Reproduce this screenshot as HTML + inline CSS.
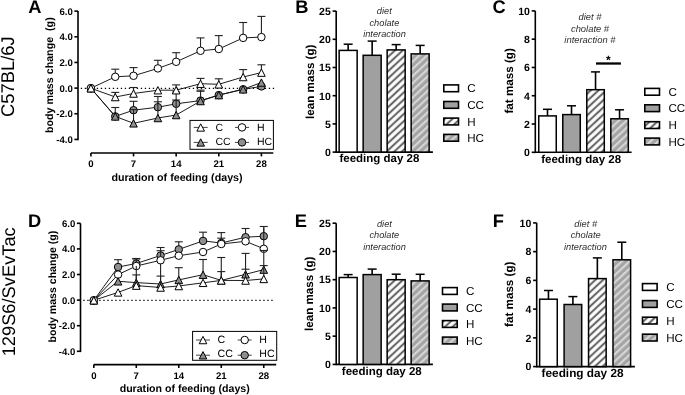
<!DOCTYPE html>
<html><head><meta charset="utf-8"><style>
html,body{margin:0;padding:0;background:#fff;}
body{width:685px;height:395px;overflow:hidden;}
svg{display:block;font-family:'Liberation Sans', sans-serif;text-rendering:geometricPrecision;will-change:transform;}
</style></head><body>
<svg width="685" height="395" viewBox="0 0 685 395">
<defs>
<pattern id="hw" patternUnits="userSpaceOnUse" width="5.25" height="10" patternTransform="rotate(47)">
<rect width="5.25" height="10" fill="#fff"/><rect x="0.7" width="2.1" height="10" fill="#666"/></pattern>
<pattern id="hg" patternUnits="userSpaceOnUse" width="5.25" height="10" patternTransform="rotate(47)">
<rect width="5.25" height="10" fill="#a4a4a4"/><rect width="2.1" height="10" fill="#d6d6d6"/></pattern>
</defs>
<rect width="685" height="395" fill="#fff"/>
<text x="14.40" y="76.60" font-size="18.4" font-weight="400" font-style="normal" text-anchor="middle" fill="#000" transform="rotate(-90 14.40 76.60)" >C57BL/6J</text>
<text x="15.00" y="291.80" font-size="18.3" font-weight="400" font-style="normal" text-anchor="middle" fill="#000" transform="rotate(-90 15.00 291.80)" >129S6/SvEvTac</text>
<text x="28.30" y="13.10" font-size="18.3" font-weight="700" font-style="normal" text-anchor="start" fill="#000" >A</text>
<text x="295.20" y="12.90" font-size="18.3" font-weight="700" font-style="normal" text-anchor="start" fill="#000" >B</text>
<text x="492.60" y="13.00" font-size="18.3" font-weight="700" font-style="normal" text-anchor="start" fill="#000" >C</text>
<text x="28.10" y="226.60" font-size="18.3" font-weight="700" font-style="normal" text-anchor="start" fill="#000" >D</text>
<text x="294.80" y="226.60" font-size="18.3" font-weight="700" font-style="normal" text-anchor="start" fill="#000" >E</text>
<text x="492.80" y="226.90" font-size="18.3" font-weight="700" font-style="normal" text-anchor="start" fill="#000" >F</text>
<line x1="78.00" y1="11.12" x2="78.00" y2="140.22" stroke="#000" stroke-width="1.6" />
<line x1="74.40" y1="11.12" x2="78.00" y2="11.12" stroke="#000" stroke-width="1.6" />
<text x="72.80" y="14.52" font-size="9.6" font-weight="700" font-style="normal" text-anchor="end" fill="#000" >6.0</text>
<line x1="74.40" y1="36.78" x2="78.00" y2="36.78" stroke="#000" stroke-width="1.6" />
<text x="72.80" y="40.18" font-size="9.6" font-weight="700" font-style="normal" text-anchor="end" fill="#000" >4.0</text>
<line x1="74.40" y1="62.44" x2="78.00" y2="62.44" stroke="#000" stroke-width="1.6" />
<text x="72.80" y="65.84" font-size="9.6" font-weight="700" font-style="normal" text-anchor="end" fill="#000" >2.0</text>
<line x1="74.40" y1="88.10" x2="78.00" y2="88.10" stroke="#000" stroke-width="1.6" />
<text x="72.80" y="91.50" font-size="9.6" font-weight="700" font-style="normal" text-anchor="end" fill="#000" >0.0</text>
<line x1="74.40" y1="113.76" x2="78.00" y2="113.76" stroke="#000" stroke-width="1.6" />
<text x="72.80" y="117.16" font-size="9.6" font-weight="700" font-style="normal" text-anchor="end" fill="#000" >-2.0</text>
<line x1="74.40" y1="139.42" x2="78.00" y2="139.42" stroke="#000" stroke-width="1.6" />
<text x="72.80" y="142.82" font-size="9.6" font-weight="700" font-style="normal" text-anchor="end" fill="#000" >-4.0</text>
<line x1="90.90" y1="153.00" x2="273.30" y2="153.00" stroke="#000" stroke-width="1.6" />
<line x1="90.90" y1="153.00" x2="90.90" y2="156.40" stroke="#000" stroke-width="1.6" />
<text x="90.90" y="166.60" font-size="9.6" font-weight="700" font-style="normal" text-anchor="middle" fill="#000" >0</text>
<line x1="133.53" y1="153.00" x2="133.53" y2="156.40" stroke="#000" stroke-width="1.6" />
<text x="133.53" y="166.60" font-size="9.6" font-weight="700" font-style="normal" text-anchor="middle" fill="#000" >7</text>
<line x1="176.16" y1="153.00" x2="176.16" y2="156.40" stroke="#000" stroke-width="1.6" />
<text x="176.16" y="166.60" font-size="9.6" font-weight="700" font-style="normal" text-anchor="middle" fill="#000" >14</text>
<line x1="218.79" y1="153.00" x2="218.79" y2="156.40" stroke="#000" stroke-width="1.6" />
<text x="218.79" y="166.60" font-size="9.6" font-weight="700" font-style="normal" text-anchor="middle" fill="#000" >21</text>
<line x1="261.42" y1="153.00" x2="261.42" y2="156.40" stroke="#000" stroke-width="1.6" />
<text x="261.42" y="166.60" font-size="9.6" font-weight="700" font-style="normal" text-anchor="middle" fill="#000" >28</text>
<text x="177.00" y="181.30" font-size="10.7" font-weight="700" font-style="normal" text-anchor="middle" fill="#000" >duration of feeding (days)</text>
<text x="52.60" y="75.20" font-size="10.7" font-weight="700" font-style="normal" text-anchor="middle" fill="#000" transform="rotate(-90 52.60 75.20)" xml:space="preserve">body mass change  (g)</text>
<line x1="80.80" y1="88.35" x2="275.50" y2="88.35" stroke="#000" stroke-width="1.3" stroke-dasharray="1.3 2.7"/>
<polyline points="90.90,88.20 115.26,116.40 133.53,110.20 157.89,107.20 176.16,103.80 200.52,100.60 218.79,95.10 243.15,89.30 261.42,86.40" fill="none" stroke="#111" stroke-width="0.95"/>
<polyline points="90.90,88.20 115.26,76.80 133.53,75.80 157.89,68.40 176.16,61.80 200.52,50.80 218.79,49.00 243.15,37.90 261.42,37.10" fill="none" stroke="#111" stroke-width="0.95"/>
<polyline points="90.90,88.20 115.26,116.40 133.53,123.30 157.89,118.00 176.16,115.00 200.52,101.00 218.79,95.10 243.15,89.30 261.42,82.50" fill="none" stroke="#111" stroke-width="0.95"/>
<polyline points="90.90,88.20 115.26,97.00 133.53,93.50 157.89,90.20 176.16,90.20 200.52,83.70 218.79,84.30 243.15,77.00 261.42,72.60" fill="none" stroke="#111" stroke-width="0.95"/>
<line x1="115.26" y1="116.40" x2="115.26" y2="107.50" stroke="#222" stroke-width="1.1" />
<line x1="111.26" y1="107.50" x2="119.26" y2="107.50" stroke="#222" stroke-width="1.1" />
<line x1="133.53" y1="110.20" x2="133.53" y2="101.30" stroke="#222" stroke-width="1.1" />
<line x1="129.53" y1="101.30" x2="137.53" y2="101.30" stroke="#222" stroke-width="1.1" />
<line x1="157.89" y1="107.20" x2="157.89" y2="96.50" stroke="#222" stroke-width="1.1" />
<line x1="153.89" y1="96.50" x2="161.89" y2="96.50" stroke="#222" stroke-width="1.1" />
<line x1="176.16" y1="103.80" x2="176.16" y2="92.00" stroke="#222" stroke-width="1.1" />
<line x1="172.16" y1="92.00" x2="180.16" y2="92.00" stroke="#222" stroke-width="1.1" />
<line x1="200.52" y1="100.60" x2="200.52" y2="90.10" stroke="#222" stroke-width="1.1" />
<line x1="196.52" y1="90.10" x2="204.52" y2="90.10" stroke="#222" stroke-width="1.1" />
<circle cx="90.90" cy="88.20" r="3.75" fill="#8e8e8e" stroke="#000" stroke-width="1"/>
<circle cx="115.26" cy="116.40" r="3.75" fill="#8e8e8e" stroke="#000" stroke-width="1"/>
<circle cx="133.53" cy="110.20" r="3.75" fill="#8e8e8e" stroke="#000" stroke-width="1"/>
<circle cx="157.89" cy="107.20" r="3.75" fill="#8e8e8e" stroke="#000" stroke-width="1"/>
<circle cx="176.16" cy="103.80" r="3.75" fill="#8e8e8e" stroke="#000" stroke-width="1"/>
<circle cx="200.52" cy="100.60" r="3.75" fill="#8e8e8e" stroke="#000" stroke-width="1"/>
<circle cx="218.79" cy="95.10" r="3.75" fill="#8e8e8e" stroke="#000" stroke-width="1"/>
<circle cx="243.15" cy="89.30" r="3.75" fill="#8e8e8e" stroke="#000" stroke-width="1"/>
<circle cx="261.42" cy="86.40" r="3.75" fill="#8e8e8e" stroke="#000" stroke-width="1"/>
<line x1="115.26" y1="76.80" x2="115.26" y2="69.20" stroke="#222" stroke-width="1.1" />
<line x1="111.26" y1="69.20" x2="119.26" y2="69.20" stroke="#222" stroke-width="1.1" />
<line x1="133.53" y1="75.80" x2="133.53" y2="67.60" stroke="#222" stroke-width="1.1" />
<line x1="129.53" y1="67.60" x2="137.53" y2="67.60" stroke="#222" stroke-width="1.1" />
<line x1="157.89" y1="68.40" x2="157.89" y2="60.30" stroke="#222" stroke-width="1.1" />
<line x1="153.89" y1="60.30" x2="161.89" y2="60.30" stroke="#222" stroke-width="1.1" />
<line x1="176.16" y1="61.80" x2="176.16" y2="52.70" stroke="#222" stroke-width="1.1" />
<line x1="172.16" y1="52.70" x2="180.16" y2="52.70" stroke="#222" stroke-width="1.1" />
<line x1="200.52" y1="50.80" x2="200.52" y2="37.90" stroke="#222" stroke-width="1.1" />
<line x1="196.52" y1="37.90" x2="204.52" y2="37.90" stroke="#222" stroke-width="1.1" />
<line x1="218.79" y1="49.00" x2="218.79" y2="35.60" stroke="#222" stroke-width="1.1" />
<line x1="214.79" y1="35.60" x2="222.79" y2="35.60" stroke="#222" stroke-width="1.1" />
<line x1="243.15" y1="37.90" x2="243.15" y2="22.50" stroke="#222" stroke-width="1.1" />
<line x1="239.15" y1="22.50" x2="247.15" y2="22.50" stroke="#222" stroke-width="1.1" />
<line x1="261.42" y1="37.10" x2="261.42" y2="16.40" stroke="#222" stroke-width="1.1" />
<line x1="257.42" y1="16.40" x2="265.42" y2="16.40" stroke="#222" stroke-width="1.1" />
<circle cx="90.90" cy="88.20" r="3.75" fill="#fff" stroke="#000" stroke-width="1"/>
<circle cx="115.26" cy="76.80" r="3.75" fill="#fff" stroke="#000" stroke-width="1"/>
<circle cx="133.53" cy="75.80" r="3.75" fill="#fff" stroke="#000" stroke-width="1"/>
<circle cx="157.89" cy="68.40" r="3.75" fill="#fff" stroke="#000" stroke-width="1"/>
<circle cx="176.16" cy="61.80" r="3.75" fill="#fff" stroke="#000" stroke-width="1"/>
<circle cx="200.52" cy="50.80" r="3.75" fill="#fff" stroke="#000" stroke-width="1"/>
<circle cx="218.79" cy="49.00" r="3.75" fill="#fff" stroke="#000" stroke-width="1"/>
<circle cx="243.15" cy="37.90" r="3.75" fill="#fff" stroke="#000" stroke-width="1"/>
<circle cx="261.42" cy="37.10" r="3.75" fill="#fff" stroke="#000" stroke-width="1"/>
<line x1="133.53" y1="123.30" x2="133.53" y2="109.60" stroke="#222" stroke-width="1.1" />
<line x1="129.53" y1="109.60" x2="137.53" y2="109.60" stroke="#222" stroke-width="1.1" />
<line x1="157.89" y1="118.00" x2="157.89" y2="101.80" stroke="#222" stroke-width="1.1" />
<line x1="153.89" y1="101.80" x2="161.89" y2="101.80" stroke="#222" stroke-width="1.1" />
<line x1="176.16" y1="115.00" x2="176.16" y2="100.00" stroke="#222" stroke-width="1.1" />
<line x1="172.16" y1="100.00" x2="180.16" y2="100.00" stroke="#222" stroke-width="1.1" />
<line x1="200.52" y1="101.00" x2="200.52" y2="91.30" stroke="#222" stroke-width="1.1" />
<line x1="196.52" y1="91.30" x2="204.52" y2="91.30" stroke="#222" stroke-width="1.1" />
<polygon points="90.90,84.60 94.70,91.95 87.10,91.95" fill="#8e8e8e" stroke="#000" stroke-width="1"/>
<polygon points="115.26,112.80 119.06,120.15 111.46,120.15" fill="#8e8e8e" stroke="#000" stroke-width="1"/>
<polygon points="133.53,119.70 137.33,127.05 129.73,127.05" fill="#8e8e8e" stroke="#000" stroke-width="1"/>
<polygon points="157.89,114.40 161.69,121.75 154.09,121.75" fill="#8e8e8e" stroke="#000" stroke-width="1"/>
<polygon points="176.16,111.40 179.96,118.75 172.36,118.75" fill="#8e8e8e" stroke="#000" stroke-width="1"/>
<polygon points="200.52,97.40 204.32,104.75 196.72,104.75" fill="#8e8e8e" stroke="#000" stroke-width="1"/>
<polygon points="218.79,91.50 222.59,98.85 214.99,98.85" fill="#8e8e8e" stroke="#000" stroke-width="1"/>
<polygon points="243.15,85.70 246.95,93.05 239.35,93.05" fill="#8e8e8e" stroke="#000" stroke-width="1"/>
<polygon points="261.42,78.90 265.22,86.25 257.62,86.25" fill="#8e8e8e" stroke="#000" stroke-width="1"/>
<line x1="115.26" y1="97.00" x2="115.26" y2="92.40" stroke="#222" stroke-width="1.1" />
<line x1="111.26" y1="92.40" x2="119.26" y2="92.40" stroke="#222" stroke-width="1.1" />
<line x1="133.53" y1="93.50" x2="133.53" y2="87.50" stroke="#222" stroke-width="1.1" />
<line x1="129.53" y1="87.50" x2="137.53" y2="87.50" stroke="#222" stroke-width="1.1" />
<line x1="176.16" y1="90.20" x2="176.16" y2="84.90" stroke="#222" stroke-width="1.1" />
<line x1="172.16" y1="84.90" x2="180.16" y2="84.90" stroke="#222" stroke-width="1.1" />
<line x1="200.52" y1="83.70" x2="200.52" y2="78.40" stroke="#222" stroke-width="1.1" />
<line x1="196.52" y1="78.40" x2="204.52" y2="78.40" stroke="#222" stroke-width="1.1" />
<line x1="218.79" y1="84.30" x2="218.79" y2="78.80" stroke="#222" stroke-width="1.1" />
<line x1="214.79" y1="78.80" x2="222.79" y2="78.80" stroke="#222" stroke-width="1.1" />
<line x1="243.15" y1="77.00" x2="243.15" y2="69.60" stroke="#222" stroke-width="1.1" />
<line x1="239.15" y1="69.60" x2="247.15" y2="69.60" stroke="#222" stroke-width="1.1" />
<line x1="261.42" y1="72.60" x2="261.42" y2="64.80" stroke="#222" stroke-width="1.1" />
<line x1="257.42" y1="64.80" x2="265.42" y2="64.80" stroke="#222" stroke-width="1.1" />
<polygon points="90.90,84.60 94.70,91.95 87.10,91.95" fill="#fff" stroke="#000" stroke-width="1"/>
<polygon points="115.26,93.40 119.06,100.75 111.46,100.75" fill="#fff" stroke="#000" stroke-width="1"/>
<polygon points="133.53,89.90 137.33,97.25 129.73,97.25" fill="#fff" stroke="#000" stroke-width="1"/>
<polygon points="157.89,86.60 161.69,93.95 154.09,93.95" fill="#fff" stroke="#000" stroke-width="1"/>
<polygon points="176.16,86.60 179.96,93.95 172.36,93.95" fill="#fff" stroke="#000" stroke-width="1"/>
<polygon points="200.52,80.10 204.32,87.45 196.72,87.45" fill="#fff" stroke="#000" stroke-width="1"/>
<polygon points="218.79,80.70 222.59,88.05 214.99,88.05" fill="#fff" stroke="#000" stroke-width="1"/>
<polygon points="243.15,73.40 246.95,80.75 239.35,80.75" fill="#fff" stroke="#000" stroke-width="1"/>
<polygon points="261.42,69.00 265.22,76.35 257.62,76.35" fill="#fff" stroke="#000" stroke-width="1"/>
<rect x="190.00" y="120.40" width="83.40" height="28.90" fill="#fff" stroke="#000" stroke-width="1"/>
<line x1="193.70" y1="127.40" x2="207.70" y2="127.40" stroke="#444" stroke-width="1" />
<polygon points="200.70,123.80 204.50,131.15 196.90,131.15" fill="#fff" stroke="#000" stroke-width="1"/>
<text x="215.50" y="130.60" font-size="10.5" font-weight="400" font-style="normal" text-anchor="start" fill="#000" >C</text>
<line x1="193.70" y1="142.40" x2="207.70" y2="142.40" stroke="#444" stroke-width="1" />
<polygon points="200.70,138.80 204.50,146.15 196.90,146.15" fill="#8e8e8e" stroke="#000" stroke-width="1"/>
<text x="215.50" y="145.00" font-size="10.5" font-weight="400" font-style="normal" text-anchor="start" fill="#000" >CC</text>
<line x1="235.00" y1="127.40" x2="249.00" y2="127.40" stroke="#444" stroke-width="1" />
<circle cx="242.00" cy="127.40" r="3.75" fill="#fff" stroke="#000" stroke-width="1"/>
<text x="257.00" y="130.60" font-size="10.5" font-weight="400" font-style="normal" text-anchor="start" fill="#000" >H</text>
<line x1="235.00" y1="142.40" x2="249.00" y2="142.40" stroke="#444" stroke-width="1" />
<circle cx="242.00" cy="142.40" r="3.75" fill="#8e8e8e" stroke="#000" stroke-width="1"/>
<text x="257.00" y="145.00" font-size="10.5" font-weight="400" font-style="normal" text-anchor="start" fill="#000" >HC</text>
<line x1="80.50" y1="223.30" x2="80.50" y2="352.10" stroke="#000" stroke-width="1.6" />
<line x1="76.90" y1="223.30" x2="80.50" y2="223.30" stroke="#000" stroke-width="1.6" />
<text x="75.30" y="226.70" font-size="9.6" font-weight="700" font-style="normal" text-anchor="end" fill="#000" >6.0</text>
<line x1="76.90" y1="248.90" x2="80.50" y2="248.90" stroke="#000" stroke-width="1.6" />
<text x="75.30" y="252.30" font-size="9.6" font-weight="700" font-style="normal" text-anchor="end" fill="#000" >4.0</text>
<line x1="76.90" y1="274.50" x2="80.50" y2="274.50" stroke="#000" stroke-width="1.6" />
<text x="75.30" y="277.90" font-size="9.6" font-weight="700" font-style="normal" text-anchor="end" fill="#000" >2.0</text>
<line x1="76.90" y1="300.10" x2="80.50" y2="300.10" stroke="#000" stroke-width="1.6" />
<text x="75.30" y="303.50" font-size="9.6" font-weight="700" font-style="normal" text-anchor="end" fill="#000" >0.0</text>
<line x1="76.90" y1="325.70" x2="80.50" y2="325.70" stroke="#000" stroke-width="1.6" />
<text x="75.30" y="329.10" font-size="9.6" font-weight="700" font-style="normal" text-anchor="end" fill="#000" >-2.0</text>
<line x1="76.90" y1="351.30" x2="80.50" y2="351.30" stroke="#000" stroke-width="1.6" />
<text x="75.30" y="354.70" font-size="9.6" font-weight="700" font-style="normal" text-anchor="end" fill="#000" >-4.0</text>
<line x1="93.80" y1="364.60" x2="276.20" y2="364.60" stroke="#000" stroke-width="1.6" />
<line x1="93.80" y1="364.60" x2="93.80" y2="368.00" stroke="#000" stroke-width="1.6" />
<text x="93.80" y="379.10" font-size="9.6" font-weight="700" font-style="normal" text-anchor="middle" fill="#000" >0</text>
<line x1="136.29" y1="364.60" x2="136.29" y2="368.00" stroke="#000" stroke-width="1.6" />
<text x="136.29" y="379.10" font-size="9.6" font-weight="700" font-style="normal" text-anchor="middle" fill="#000" >7</text>
<line x1="178.78" y1="364.60" x2="178.78" y2="368.00" stroke="#000" stroke-width="1.6" />
<text x="178.78" y="379.10" font-size="9.6" font-weight="700" font-style="normal" text-anchor="middle" fill="#000" >14</text>
<line x1="221.27" y1="364.60" x2="221.27" y2="368.00" stroke="#000" stroke-width="1.6" />
<text x="221.27" y="379.10" font-size="9.6" font-weight="700" font-style="normal" text-anchor="middle" fill="#000" >21</text>
<line x1="263.76" y1="364.60" x2="263.76" y2="368.00" stroke="#000" stroke-width="1.6" />
<text x="263.76" y="379.10" font-size="9.6" font-weight="700" font-style="normal" text-anchor="middle" fill="#000" >28</text>
<text x="184.70" y="391.60" font-size="10.6" font-weight="700" font-style="normal" text-anchor="middle" fill="#000" >duration of feeding (days)</text>
<text x="56.00" y="286.60" font-size="10.6" font-weight="700" font-style="normal" text-anchor="middle" fill="#000" transform="rotate(-90 56.00 286.60)" xml:space="preserve">body mass change (g)</text>
<line x1="83.30" y1="300.35" x2="273.50" y2="300.35" stroke="#000" stroke-width="1.3" stroke-dasharray="1.3 2.7"/>
<polyline points="93.80,300.30 118.08,267.00 136.29,263.50 160.57,255.50 178.78,249.40 203.06,240.90 221.27,243.00 245.55,237.20 263.76,236.20" fill="none" stroke="#111" stroke-width="0.95"/>
<polyline points="93.80,300.30 118.08,274.60 136.29,266.00 160.57,260.30 178.78,255.70 203.06,252.00 221.27,244.00 245.55,241.30 263.76,248.80" fill="none" stroke="#111" stroke-width="0.95"/>
<polyline points="93.80,300.30 118.08,281.30 136.29,282.60 160.57,284.00 178.78,279.90 203.06,274.70 221.27,280.40 245.55,274.30 263.76,269.60" fill="none" stroke="#111" stroke-width="0.95"/>
<polyline points="93.80,300.30 118.08,292.40 136.29,285.60 160.57,287.50 178.78,286.00 203.06,282.80 221.27,280.40 245.55,280.50 263.76,278.90" fill="none" stroke="#111" stroke-width="0.95"/>
<line x1="118.08" y1="267.00" x2="118.08" y2="259.70" stroke="#222" stroke-width="1.1" />
<line x1="114.08" y1="259.70" x2="122.08" y2="259.70" stroke="#222" stroke-width="1.1" />
<line x1="136.29" y1="263.50" x2="136.29" y2="258.50" stroke="#222" stroke-width="1.1" />
<line x1="132.29" y1="258.50" x2="140.29" y2="258.50" stroke="#222" stroke-width="1.1" />
<line x1="160.57" y1="255.50" x2="160.57" y2="247.50" stroke="#222" stroke-width="1.1" />
<line x1="156.57" y1="247.50" x2="164.57" y2="247.50" stroke="#222" stroke-width="1.1" />
<line x1="178.78" y1="249.40" x2="178.78" y2="241.80" stroke="#222" stroke-width="1.1" />
<line x1="174.78" y1="241.80" x2="182.78" y2="241.80" stroke="#222" stroke-width="1.1" />
<line x1="203.06" y1="240.90" x2="203.06" y2="232.20" stroke="#222" stroke-width="1.1" />
<line x1="199.06" y1="232.20" x2="207.06" y2="232.20" stroke="#222" stroke-width="1.1" />
<line x1="221.27" y1="243.00" x2="221.27" y2="232.60" stroke="#222" stroke-width="1.1" />
<line x1="217.27" y1="232.60" x2="225.27" y2="232.60" stroke="#222" stroke-width="1.1" />
<line x1="245.55" y1="237.20" x2="245.55" y2="228.50" stroke="#222" stroke-width="1.1" />
<line x1="241.55" y1="228.50" x2="249.55" y2="228.50" stroke="#222" stroke-width="1.1" />
<line x1="263.76" y1="236.20" x2="263.76" y2="226.50" stroke="#222" stroke-width="1.1" />
<line x1="259.76" y1="226.50" x2="267.76" y2="226.50" stroke="#222" stroke-width="1.1" />
<circle cx="93.80" cy="300.30" r="3.75" fill="#8e8e8e" stroke="#000" stroke-width="1"/>
<circle cx="118.08" cy="267.00" r="3.75" fill="#8e8e8e" stroke="#000" stroke-width="1"/>
<circle cx="136.29" cy="263.50" r="3.75" fill="#8e8e8e" stroke="#000" stroke-width="1"/>
<circle cx="160.57" cy="255.50" r="3.75" fill="#8e8e8e" stroke="#000" stroke-width="1"/>
<circle cx="178.78" cy="249.40" r="3.75" fill="#8e8e8e" stroke="#000" stroke-width="1"/>
<circle cx="203.06" cy="240.90" r="3.75" fill="#8e8e8e" stroke="#000" stroke-width="1"/>
<circle cx="221.27" cy="243.00" r="3.75" fill="#8e8e8e" stroke="#000" stroke-width="1"/>
<circle cx="245.55" cy="237.20" r="3.75" fill="#8e8e8e" stroke="#000" stroke-width="1"/>
<circle cx="263.76" cy="236.20" r="3.75" fill="#8e8e8e" stroke="#000" stroke-width="1"/>
<line x1="136.29" y1="266.00" x2="136.29" y2="259.00" stroke="#222" stroke-width="1.1" />
<line x1="132.29" y1="259.00" x2="140.29" y2="259.00" stroke="#222" stroke-width="1.1" />
<line x1="160.57" y1="260.30" x2="160.57" y2="250.70" stroke="#222" stroke-width="1.1" />
<line x1="156.57" y1="250.70" x2="164.57" y2="250.70" stroke="#222" stroke-width="1.1" />
<line x1="221.27" y1="244.00" x2="221.27" y2="238.20" stroke="#222" stroke-width="1.1" />
<line x1="217.27" y1="238.20" x2="225.27" y2="238.20" stroke="#222" stroke-width="1.1" />
<line x1="263.76" y1="248.80" x2="263.76" y2="227.50" stroke="#222" stroke-width="1.1" />
<circle cx="93.80" cy="300.30" r="3.75" fill="#fff" stroke="#000" stroke-width="1"/>
<circle cx="118.08" cy="274.60" r="3.75" fill="#fff" stroke="#000" stroke-width="1"/>
<circle cx="136.29" cy="266.00" r="3.75" fill="#fff" stroke="#000" stroke-width="1"/>
<circle cx="160.57" cy="260.30" r="3.75" fill="#fff" stroke="#000" stroke-width="1"/>
<circle cx="178.78" cy="255.70" r="3.75" fill="#fff" stroke="#000" stroke-width="1"/>
<circle cx="203.06" cy="252.00" r="3.75" fill="#fff" stroke="#000" stroke-width="1"/>
<circle cx="221.27" cy="244.00" r="3.75" fill="#fff" stroke="#000" stroke-width="1"/>
<circle cx="245.55" cy="241.30" r="3.75" fill="#fff" stroke="#000" stroke-width="1"/>
<circle cx="263.76" cy="248.80" r="3.75" fill="#fff" stroke="#000" stroke-width="1"/>
<line x1="136.29" y1="282.60" x2="136.29" y2="274.90" stroke="#222" stroke-width="1.1" />
<line x1="132.29" y1="274.90" x2="140.29" y2="274.90" stroke="#222" stroke-width="1.1" />
<line x1="160.57" y1="284.00" x2="160.57" y2="276.10" stroke="#222" stroke-width="1.1" />
<line x1="156.57" y1="276.10" x2="164.57" y2="276.10" stroke="#222" stroke-width="1.1" />
<line x1="178.78" y1="279.90" x2="178.78" y2="267.70" stroke="#222" stroke-width="1.1" />
<line x1="174.78" y1="267.70" x2="182.78" y2="267.70" stroke="#222" stroke-width="1.1" />
<line x1="203.06" y1="274.70" x2="203.06" y2="259.50" stroke="#222" stroke-width="1.1" />
<line x1="199.06" y1="259.50" x2="207.06" y2="259.50" stroke="#222" stroke-width="1.1" />
<line x1="221.27" y1="280.40" x2="221.27" y2="271.60" stroke="#222" stroke-width="1.1" />
<line x1="217.27" y1="271.60" x2="225.27" y2="271.60" stroke="#222" stroke-width="1.1" />
<line x1="245.55" y1="274.30" x2="245.55" y2="253.40" stroke="#222" stroke-width="1.1" />
<line x1="241.55" y1="253.40" x2="249.55" y2="253.40" stroke="#222" stroke-width="1.1" />
<line x1="263.76" y1="269.60" x2="263.76" y2="265.60" stroke="#222" stroke-width="1.1" />
<line x1="259.76" y1="265.60" x2="267.76" y2="265.60" stroke="#222" stroke-width="1.1" />
<polygon points="93.80,296.70 97.60,304.05 90.00,304.05" fill="#8e8e8e" stroke="#000" stroke-width="1"/>
<polygon points="118.08,277.70 121.88,285.05 114.28,285.05" fill="#8e8e8e" stroke="#000" stroke-width="1"/>
<polygon points="136.29,279.00 140.09,286.35 132.49,286.35" fill="#8e8e8e" stroke="#000" stroke-width="1"/>
<polygon points="160.57,280.40 164.37,287.75 156.77,287.75" fill="#8e8e8e" stroke="#000" stroke-width="1"/>
<polygon points="178.78,276.30 182.58,283.65 174.98,283.65" fill="#8e8e8e" stroke="#000" stroke-width="1"/>
<polygon points="203.06,271.10 206.86,278.45 199.26,278.45" fill="#8e8e8e" stroke="#000" stroke-width="1"/>
<polygon points="221.27,276.80 225.07,284.15 217.47,284.15" fill="#8e8e8e" stroke="#000" stroke-width="1"/>
<polygon points="245.55,270.70 249.35,278.05 241.75,278.05" fill="#8e8e8e" stroke="#000" stroke-width="1"/>
<polygon points="263.76,266.00 267.56,273.35 259.96,273.35" fill="#8e8e8e" stroke="#000" stroke-width="1"/>
<line x1="136.29" y1="285.60" x2="136.29" y2="266.00" stroke="#222" stroke-width="1.1" />
<line x1="160.57" y1="287.50" x2="160.57" y2="263.50" stroke="#222" stroke-width="1.1" />
<line x1="221.27" y1="280.40" x2="221.27" y2="257.50" stroke="#222" stroke-width="1.1" />
<line x1="217.27" y1="257.50" x2="225.27" y2="257.50" stroke="#222" stroke-width="1.1" />
<line x1="245.55" y1="280.50" x2="245.55" y2="269.20" stroke="#222" stroke-width="1.1" />
<line x1="241.55" y1="269.20" x2="249.55" y2="269.20" stroke="#222" stroke-width="1.1" />
<line x1="263.76" y1="278.90" x2="263.76" y2="250.50" stroke="#222" stroke-width="1.1" />
<line x1="259.76" y1="250.50" x2="267.76" y2="250.50" stroke="#222" stroke-width="1.1" />
<polygon points="93.80,296.70 97.60,304.05 90.00,304.05" fill="#fff" stroke="#000" stroke-width="1"/>
<polygon points="118.08,288.80 121.88,296.15 114.28,296.15" fill="#fff" stroke="#000" stroke-width="1"/>
<polygon points="136.29,282.00 140.09,289.35 132.49,289.35" fill="#fff" stroke="#000" stroke-width="1"/>
<polygon points="160.57,283.90 164.37,291.25 156.77,291.25" fill="#fff" stroke="#000" stroke-width="1"/>
<polygon points="178.78,282.40 182.58,289.75 174.98,289.75" fill="#fff" stroke="#000" stroke-width="1"/>
<polygon points="203.06,279.20 206.86,286.55 199.26,286.55" fill="#fff" stroke="#000" stroke-width="1"/>
<polygon points="221.27,276.80 225.07,284.15 217.47,284.15" fill="#fff" stroke="#000" stroke-width="1"/>
<polygon points="245.55,276.90 249.35,284.25 241.75,284.25" fill="#fff" stroke="#000" stroke-width="1"/>
<polygon points="263.76,275.30 267.56,282.65 259.96,282.65" fill="#fff" stroke="#000" stroke-width="1"/>
<rect x="192.60" y="331.40" width="84.10" height="28.90" fill="#fff" stroke="#000" stroke-width="1"/>
<line x1="196.00" y1="340.00" x2="210.00" y2="340.00" stroke="#444" stroke-width="1" />
<polygon points="203.00,336.40 206.80,343.75 199.20,343.75" fill="#fff" stroke="#000" stroke-width="1"/>
<text x="217.60" y="343.20" font-size="10.6" font-weight="400" font-style="normal" text-anchor="start" fill="#000" >C</text>
<line x1="196.00" y1="355.20" x2="210.00" y2="355.20" stroke="#444" stroke-width="1" />
<polygon points="203.00,351.60 206.80,358.95 199.20,358.95" fill="#8e8e8e" stroke="#000" stroke-width="1"/>
<text x="217.60" y="357.40" font-size="10.6" font-weight="400" font-style="normal" text-anchor="start" fill="#000" >CC</text>
<line x1="237.70" y1="340.00" x2="251.70" y2="340.00" stroke="#444" stroke-width="1" />
<circle cx="244.70" cy="340.00" r="3.75" fill="#fff" stroke="#000" stroke-width="1"/>
<text x="259.30" y="343.20" font-size="10.6" font-weight="400" font-style="normal" text-anchor="start" fill="#000" >H</text>
<line x1="237.70" y1="355.20" x2="251.70" y2="355.20" stroke="#444" stroke-width="1" />
<circle cx="244.70" cy="355.20" r="3.75" fill="#8e8e8e" stroke="#000" stroke-width="1"/>
<text x="259.30" y="357.40" font-size="10.6" font-weight="400" font-style="normal" text-anchor="start" fill="#000" >HC</text>
<line x1="336.20" y1="11.10" x2="336.20" y2="152.90" stroke="#000" stroke-width="1.6" />
<line x1="332.60" y1="152.10" x2="336.20" y2="152.10" stroke="#000" stroke-width="1.6" />
<text x="330.80" y="155.90" font-size="10.5" font-weight="700" font-style="normal" text-anchor="end" fill="#000" >0</text>
<line x1="332.60" y1="123.90" x2="336.20" y2="123.90" stroke="#000" stroke-width="1.6" />
<text x="330.80" y="127.70" font-size="10.5" font-weight="700" font-style="normal" text-anchor="end" fill="#000" >5</text>
<line x1="332.60" y1="95.70" x2="336.20" y2="95.70" stroke="#000" stroke-width="1.6" />
<text x="330.80" y="99.50" font-size="10.5" font-weight="700" font-style="normal" text-anchor="end" fill="#000" >10</text>
<line x1="332.60" y1="67.50" x2="336.20" y2="67.50" stroke="#000" stroke-width="1.6" />
<text x="330.80" y="71.30" font-size="10.5" font-weight="700" font-style="normal" text-anchor="end" fill="#000" >15</text>
<line x1="332.60" y1="39.30" x2="336.20" y2="39.30" stroke="#000" stroke-width="1.6" />
<text x="330.80" y="43.10" font-size="10.5" font-weight="700" font-style="normal" text-anchor="end" fill="#000" >20</text>
<line x1="332.60" y1="11.10" x2="336.20" y2="11.10" stroke="#000" stroke-width="1.6" />
<text x="330.80" y="14.90" font-size="10.5" font-weight="700" font-style="normal" text-anchor="end" fill="#000" >25</text>
<line x1="336.20" y1="152.10" x2="432.90" y2="152.10" stroke="#000" stroke-width="1.6" />
<line x1="348.15" y1="50.40" x2="348.15" y2="44.20" stroke="#000" stroke-width="1.6" />
<line x1="343.65" y1="44.20" x2="352.65" y2="44.20" stroke="#000" stroke-width="1.5" />
<rect x="339.15" y="50.40" width="18.00" height="101.70" fill="#fff" stroke="#000" stroke-width="1.5"/>
<line x1="372.15" y1="55.30" x2="372.15" y2="41.10" stroke="#000" stroke-width="1.6" />
<line x1="367.65" y1="41.10" x2="376.65" y2="41.10" stroke="#000" stroke-width="1.5" />
<rect x="363.15" y="55.30" width="18.00" height="96.80" fill="#a0a0a0" stroke="#000" stroke-width="1.5"/>
<line x1="396.15" y1="49.90" x2="396.15" y2="44.60" stroke="#000" stroke-width="1.6" />
<line x1="391.65" y1="44.60" x2="400.65" y2="44.60" stroke="#000" stroke-width="1.5" />
<rect x="387.15" y="49.90" width="18.00" height="102.20" fill="url(#hw)" stroke="#000" stroke-width="1.5"/>
<line x1="420.15" y1="53.90" x2="420.15" y2="45.40" stroke="#000" stroke-width="1.6" />
<line x1="415.65" y1="45.40" x2="424.65" y2="45.40" stroke="#000" stroke-width="1.5" />
<rect x="411.15" y="53.90" width="18.00" height="98.20" fill="url(#hg)" stroke="#000" stroke-width="1.5"/>
<text x="379.40" y="161.70" font-size="11.5" font-weight="700" font-style="normal" text-anchor="middle" fill="#000" >feeding day 28</text>
<text x="313.60" y="81.70" font-size="11.65" font-weight="700" font-style="normal" text-anchor="middle" fill="#000" transform="rotate(-90 313.60 81.70)" >lean mass (g)</text>
<text x="384.30" y="14.40" font-size="9.25" font-weight="400" font-style="italic" text-anchor="middle" fill="#2e2e2e" >diet</text>
<text x="384.40" y="25.70" font-size="9.25" font-weight="400" font-style="italic" text-anchor="middle" fill="#2e2e2e" >cholate</text>
<text x="384.50" y="37.30" font-size="9.25" font-weight="400" font-style="italic" text-anchor="middle" fill="#2e2e2e" >interaction</text>
<rect x="443.80" y="84.90" width="14.70" height="6.8" fill="#fff" stroke="#000" stroke-width="1.6"/>
<text x="467.20" y="92.30" font-size="11.6" font-weight="400" font-style="normal" text-anchor="start" fill="#000" >C</text>
<rect x="443.80" y="101.50" width="14.70" height="6.8" fill="#a0a0a0" stroke="#000" stroke-width="1.6"/>
<text x="467.20" y="108.90" font-size="11.6" font-weight="400" font-style="normal" text-anchor="start" fill="#000" >CC</text>
<rect x="443.80" y="118.10" width="14.70" height="6.8" fill="url(#hw)" stroke="#000" stroke-width="1.6"/>
<text x="467.20" y="125.50" font-size="11.6" font-weight="400" font-style="normal" text-anchor="start" fill="#000" >H</text>
<rect x="443.80" y="134.40" width="14.70" height="6.8" fill="url(#hg)" stroke="#000" stroke-width="1.6"/>
<text x="467.20" y="141.80" font-size="11.6" font-weight="400" font-style="normal" text-anchor="start" fill="#000" >HC</text>
<line x1="535.30" y1="10.90" x2="535.30" y2="153.10" stroke="#000" stroke-width="1.6" />
<line x1="531.70" y1="152.30" x2="535.30" y2="152.30" stroke="#000" stroke-width="1.6" />
<text x="529.90" y="156.10" font-size="10.5" font-weight="700" font-style="normal" text-anchor="end" fill="#000" >0</text>
<line x1="531.70" y1="124.02" x2="535.30" y2="124.02" stroke="#000" stroke-width="1.6" />
<text x="529.90" y="127.82" font-size="10.5" font-weight="700" font-style="normal" text-anchor="end" fill="#000" >2</text>
<line x1="531.70" y1="95.74" x2="535.30" y2="95.74" stroke="#000" stroke-width="1.6" />
<text x="529.90" y="99.54" font-size="10.5" font-weight="700" font-style="normal" text-anchor="end" fill="#000" >4</text>
<line x1="531.70" y1="67.46" x2="535.30" y2="67.46" stroke="#000" stroke-width="1.6" />
<text x="529.90" y="71.26" font-size="10.5" font-weight="700" font-style="normal" text-anchor="end" fill="#000" >6</text>
<line x1="531.70" y1="39.18" x2="535.30" y2="39.18" stroke="#000" stroke-width="1.6" />
<text x="529.90" y="42.98" font-size="10.5" font-weight="700" font-style="normal" text-anchor="end" fill="#000" >8</text>
<line x1="531.70" y1="10.90" x2="535.30" y2="10.90" stroke="#000" stroke-width="1.6" />
<text x="529.90" y="14.70" font-size="10.5" font-weight="700" font-style="normal" text-anchor="end" fill="#000" >10</text>
<line x1="535.30" y1="152.30" x2="631.60" y2="152.30" stroke="#000" stroke-width="1.6" />
<line x1="547.50" y1="115.90" x2="547.50" y2="109.30" stroke="#000" stroke-width="1.6" />
<line x1="543.00" y1="109.30" x2="552.00" y2="109.30" stroke="#000" stroke-width="1.5" />
<rect x="538.75" y="115.90" width="17.50" height="36.40" fill="#fff" stroke="#000" stroke-width="1.5"/>
<line x1="571.52" y1="114.60" x2="571.52" y2="105.80" stroke="#000" stroke-width="1.6" />
<line x1="567.02" y1="105.80" x2="576.02" y2="105.80" stroke="#000" stroke-width="1.5" />
<rect x="562.77" y="114.60" width="17.50" height="37.70" fill="#a0a0a0" stroke="#000" stroke-width="1.5"/>
<line x1="595.54" y1="89.70" x2="595.54" y2="71.90" stroke="#000" stroke-width="1.6" />
<line x1="591.04" y1="71.90" x2="600.04" y2="71.90" stroke="#000" stroke-width="1.5" />
<rect x="586.79" y="89.70" width="17.50" height="62.60" fill="url(#hw)" stroke="#000" stroke-width="1.5"/>
<line x1="619.56" y1="118.80" x2="619.56" y2="109.80" stroke="#000" stroke-width="1.6" />
<line x1="615.06" y1="109.80" x2="624.06" y2="109.80" stroke="#000" stroke-width="1.5" />
<rect x="610.81" y="118.80" width="17.50" height="33.50" fill="url(#hg)" stroke="#000" stroke-width="1.5"/>
<text x="581.20" y="162.50" font-size="11.5" font-weight="700" font-style="normal" text-anchor="middle" fill="#000" >feeding day 28</text>
<text x="513.00" y="80.90" font-size="11.65" font-weight="700" font-style="normal" text-anchor="middle" fill="#000" transform="rotate(-90 513.00 80.90)" >fat mass (g)</text>
<text x="590.00" y="20.30" font-size="9.4" font-weight="400" font-style="italic" text-anchor="middle" fill="#2e2e2e" >diet #</text>
<text x="590.00" y="31.70" font-size="9.4" font-weight="400" font-style="italic" text-anchor="middle" fill="#2e2e2e" >cholate #</text>
<text x="589.90" y="43.30" font-size="9.4" font-weight="400" font-style="italic" text-anchor="middle" fill="#2e2e2e" >interaction #</text>
<rect x="644.80" y="88.40" width="14.70" height="6.8" fill="#fff" stroke="#000" stroke-width="1.6"/>
<text x="668.40" y="95.80" font-size="11.6" font-weight="400" font-style="normal" text-anchor="start" fill="#000" >C</text>
<rect x="644.80" y="104.80" width="14.70" height="6.8" fill="#a0a0a0" stroke="#000" stroke-width="1.6"/>
<text x="668.40" y="112.20" font-size="11.6" font-weight="400" font-style="normal" text-anchor="start" fill="#000" >CC</text>
<rect x="644.80" y="121.70" width="14.70" height="6.8" fill="url(#hw)" stroke="#000" stroke-width="1.6"/>
<text x="668.40" y="129.10" font-size="11.6" font-weight="400" font-style="normal" text-anchor="start" fill="#000" >H</text>
<rect x="644.80" y="138.10" width="14.70" height="6.8" fill="url(#hg)" stroke="#000" stroke-width="1.6"/>
<text x="668.40" y="145.50" font-size="11.6" font-weight="400" font-style="normal" text-anchor="start" fill="#000" >HC</text>
<line x1="336.20" y1="223.20" x2="336.20" y2="365.20" stroke="#000" stroke-width="1.6" />
<line x1="332.60" y1="364.40" x2="336.20" y2="364.40" stroke="#000" stroke-width="1.6" />
<text x="330.80" y="368.20" font-size="10.5" font-weight="700" font-style="normal" text-anchor="end" fill="#000" >0</text>
<line x1="332.60" y1="336.16" x2="336.20" y2="336.16" stroke="#000" stroke-width="1.6" />
<text x="330.80" y="339.96" font-size="10.5" font-weight="700" font-style="normal" text-anchor="end" fill="#000" >5</text>
<line x1="332.60" y1="307.92" x2="336.20" y2="307.92" stroke="#000" stroke-width="1.6" />
<text x="330.80" y="311.72" font-size="10.5" font-weight="700" font-style="normal" text-anchor="end" fill="#000" >10</text>
<line x1="332.60" y1="279.68" x2="336.20" y2="279.68" stroke="#000" stroke-width="1.6" />
<text x="330.80" y="283.48" font-size="10.5" font-weight="700" font-style="normal" text-anchor="end" fill="#000" >15</text>
<line x1="332.60" y1="251.44" x2="336.20" y2="251.44" stroke="#000" stroke-width="1.6" />
<text x="330.80" y="255.24" font-size="10.5" font-weight="700" font-style="normal" text-anchor="end" fill="#000" >20</text>
<line x1="332.60" y1="223.20" x2="336.20" y2="223.20" stroke="#000" stroke-width="1.6" />
<text x="330.80" y="227.00" font-size="10.5" font-weight="700" font-style="normal" text-anchor="end" fill="#000" >25</text>
<line x1="336.20" y1="364.40" x2="432.90" y2="364.40" stroke="#000" stroke-width="1.6" />
<line x1="348.15" y1="277.50" x2="348.15" y2="274.60" stroke="#000" stroke-width="1.6" />
<line x1="343.65" y1="274.60" x2="352.65" y2="274.60" stroke="#000" stroke-width="1.5" />
<rect x="339.15" y="277.50" width="18.00" height="86.90" fill="#fff" stroke="#000" stroke-width="1.5"/>
<line x1="372.15" y1="274.60" x2="372.15" y2="269.10" stroke="#000" stroke-width="1.6" />
<line x1="367.65" y1="269.10" x2="376.65" y2="269.10" stroke="#000" stroke-width="1.5" />
<rect x="363.15" y="274.60" width="18.00" height="89.80" fill="#a0a0a0" stroke="#000" stroke-width="1.5"/>
<line x1="396.15" y1="279.70" x2="396.15" y2="274.20" stroke="#000" stroke-width="1.6" />
<line x1="391.65" y1="274.20" x2="400.65" y2="274.20" stroke="#000" stroke-width="1.5" />
<rect x="387.15" y="279.70" width="18.00" height="84.70" fill="url(#hw)" stroke="#000" stroke-width="1.5"/>
<line x1="420.15" y1="280.90" x2="420.15" y2="274.30" stroke="#000" stroke-width="1.6" />
<line x1="415.65" y1="274.30" x2="424.65" y2="274.30" stroke="#000" stroke-width="1.5" />
<rect x="411.15" y="280.90" width="18.00" height="83.50" fill="url(#hg)" stroke="#000" stroke-width="1.5"/>
<text x="381.80" y="375.30" font-size="11.5" font-weight="700" font-style="normal" text-anchor="middle" fill="#000" >feeding day 28</text>
<text x="313.40" y="293.80" font-size="11.65" font-weight="700" font-style="normal" text-anchor="middle" fill="#000" transform="rotate(-90 313.40 293.80)" >lean mass (g)</text>
<text x="384.40" y="226.60" font-size="9.25" font-weight="400" font-style="italic" text-anchor="middle" fill="#2e2e2e" >diet</text>
<text x="384.30" y="238.10" font-size="9.25" font-weight="400" font-style="italic" text-anchor="middle" fill="#2e2e2e" >cholate</text>
<text x="384.50" y="249.80" font-size="9.25" font-weight="400" font-style="italic" text-anchor="middle" fill="#2e2e2e" >interaction</text>
<rect x="442.50" y="287.60" width="14.70" height="6.8" fill="#fff" stroke="#000" stroke-width="1.6"/>
<text x="466.00" y="295.00" font-size="11.6" font-weight="400" font-style="normal" text-anchor="start" fill="#000" >C</text>
<rect x="442.50" y="304.10" width="14.70" height="6.8" fill="#a0a0a0" stroke="#000" stroke-width="1.6"/>
<text x="466.00" y="311.50" font-size="11.6" font-weight="400" font-style="normal" text-anchor="start" fill="#000" >CC</text>
<rect x="442.50" y="320.60" width="14.70" height="6.8" fill="url(#hw)" stroke="#000" stroke-width="1.6"/>
<text x="466.00" y="328.00" font-size="11.6" font-weight="400" font-style="normal" text-anchor="start" fill="#000" >H</text>
<rect x="442.50" y="337.10" width="14.70" height="6.8" fill="url(#hg)" stroke="#000" stroke-width="1.6"/>
<text x="466.00" y="344.50" font-size="11.6" font-weight="400" font-style="normal" text-anchor="start" fill="#000" >HC</text>
<line x1="536.70" y1="222.90" x2="536.70" y2="367.40" stroke="#000" stroke-width="1.6" />
<line x1="533.10" y1="366.60" x2="536.70" y2="366.60" stroke="#000" stroke-width="1.6" />
<text x="531.30" y="370.40" font-size="10.5" font-weight="700" font-style="normal" text-anchor="end" fill="#000" >0</text>
<line x1="533.10" y1="337.86" x2="536.70" y2="337.86" stroke="#000" stroke-width="1.6" />
<text x="531.30" y="341.66" font-size="10.5" font-weight="700" font-style="normal" text-anchor="end" fill="#000" >2</text>
<line x1="533.10" y1="309.12" x2="536.70" y2="309.12" stroke="#000" stroke-width="1.6" />
<text x="531.30" y="312.92" font-size="10.5" font-weight="700" font-style="normal" text-anchor="end" fill="#000" >4</text>
<line x1="533.10" y1="280.38" x2="536.70" y2="280.38" stroke="#000" stroke-width="1.6" />
<text x="531.30" y="284.18" font-size="10.5" font-weight="700" font-style="normal" text-anchor="end" fill="#000" >6</text>
<line x1="533.10" y1="251.64" x2="536.70" y2="251.64" stroke="#000" stroke-width="1.6" />
<text x="531.30" y="255.44" font-size="10.5" font-weight="700" font-style="normal" text-anchor="end" fill="#000" >8</text>
<line x1="533.10" y1="222.90" x2="536.70" y2="222.90" stroke="#000" stroke-width="1.6" />
<text x="531.30" y="226.70" font-size="10.5" font-weight="700" font-style="normal" text-anchor="end" fill="#000" >10</text>
<line x1="536.70" y1="366.60" x2="634.90" y2="366.60" stroke="#000" stroke-width="1.6" />
<line x1="548.45" y1="299.20" x2="548.45" y2="290.50" stroke="#000" stroke-width="1.6" />
<line x1="543.95" y1="290.50" x2="552.95" y2="290.50" stroke="#000" stroke-width="1.5" />
<rect x="539.65" y="299.20" width="17.60" height="67.40" fill="#fff" stroke="#000" stroke-width="1.5"/>
<line x1="572.90" y1="304.50" x2="572.90" y2="296.60" stroke="#000" stroke-width="1.6" />
<line x1="568.40" y1="296.60" x2="577.40" y2="296.60" stroke="#000" stroke-width="1.5" />
<rect x="564.10" y="304.50" width="17.60" height="62.10" fill="#a0a0a0" stroke="#000" stroke-width="1.5"/>
<line x1="597.35" y1="278.60" x2="597.35" y2="257.90" stroke="#000" stroke-width="1.6" />
<line x1="592.85" y1="257.90" x2="601.85" y2="257.90" stroke="#000" stroke-width="1.5" />
<rect x="588.55" y="278.60" width="17.60" height="88.00" fill="url(#hw)" stroke="#000" stroke-width="1.5"/>
<line x1="621.80" y1="259.80" x2="621.80" y2="242.20" stroke="#000" stroke-width="1.6" />
<line x1="617.30" y1="242.20" x2="626.30" y2="242.20" stroke="#000" stroke-width="1.5" />
<rect x="613.00" y="259.80" width="17.60" height="106.80" fill="url(#hg)" stroke="#000" stroke-width="1.5"/>
<text x="582.60" y="376.60" font-size="11.8" font-weight="700" font-style="normal" text-anchor="middle" fill="#000" >feeding day 28</text>
<text x="513.20" y="294.20" font-size="11.65" font-weight="700" font-style="normal" text-anchor="middle" fill="#000" transform="rotate(-90 513.20 294.20)" >fat mass (g)</text>
<text x="585.70" y="226.50" font-size="9.3" font-weight="400" font-style="italic" text-anchor="middle" fill="#2e2e2e" >diet #</text>
<text x="585.70" y="238.40" font-size="9.3" font-weight="400" font-style="italic" text-anchor="middle" fill="#2e2e2e" >cholate</text>
<text x="585.40" y="250.00" font-size="9.3" font-weight="400" font-style="italic" text-anchor="middle" fill="#2e2e2e" >interaction</text>
<rect x="642.50" y="283.60" width="14.60" height="6.8" fill="#fff" stroke="#000" stroke-width="1.6"/>
<text x="666.20" y="291.00" font-size="11.6" font-weight="400" font-style="normal" text-anchor="start" fill="#000" >C</text>
<rect x="642.50" y="300.60" width="14.60" height="6.8" fill="#a0a0a0" stroke="#000" stroke-width="1.6"/>
<text x="666.20" y="308.00" font-size="11.6" font-weight="400" font-style="normal" text-anchor="start" fill="#000" >CC</text>
<rect x="642.50" y="317.20" width="14.60" height="6.8" fill="url(#hw)" stroke="#000" stroke-width="1.6"/>
<text x="666.20" y="324.60" font-size="11.6" font-weight="400" font-style="normal" text-anchor="start" fill="#000" >H</text>
<rect x="642.50" y="334.20" width="14.60" height="6.8" fill="url(#hg)" stroke="#000" stroke-width="1.6"/>
<text x="666.20" y="341.60" font-size="11.6" font-weight="400" font-style="normal" text-anchor="start" fill="#000" >HC</text>
<line x1="596.00" y1="63.50" x2="620.90" y2="63.50" stroke="#000" stroke-width="2.3" />
<text x="608.40" y="63.60" font-size="12" font-weight="700" font-style="normal" text-anchor="middle" fill="#000" >*</text>
</svg></body></html>
